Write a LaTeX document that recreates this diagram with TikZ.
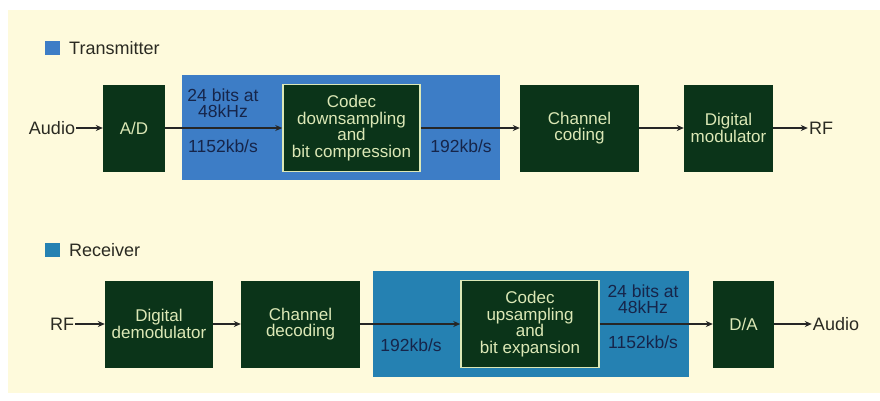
\documentclass[tikz,border=0pt]{standalone}
\usepackage{fontspec}
\setmainfont{Liberation Sans}
\usepackage{xcolor}
\usetikzlibrary{arrows.meta}

\definecolor{cream}{HTML}{FEFADC}
\definecolor{darkgreen}{HTML}{0B3419}
\definecolor{boxtext}{HTML}{DCE8B6}
\definecolor{txblue}{HTML}{3D7DC6}
\definecolor{rxblue}{HTML}{2581B2}
\definecolor{navy}{HTML}{16254A}
\definecolor{ink}{HTML}{2A2A22}

\begin{document}
\begin{tikzpicture}[x=1pt, y=-1pt,
            block/.style={rectangle, fill=darkgreen, align=center, inner sep=1pt,
            text=boxtext, font=\fontsize{17}{16.5}\selectfont, minimum height=87pt},
            codec/.style={block, draw=boxtext, line width=1.5pt},
            label_out/.style={font=\fontsize{18}{18}\selectfont, text=ink, inner sep=1pt},
            label_rate/.style={font=\fontsize{17.5}{16.5}\selectfont, text=navy, align=center, inner sep=0pt},
            flow/.style={->, line width=1.4pt, color=black!85,
            >={Stealth[length=7pt, width=6pt]}},
        ]

            \useasboundingbox (0,0) rectangle (880,400);
            \fill[white] (0,0) rectangle (880,400);
            \fill[cream] (8,10) rectangle (880,393);

            %% Transmitter
            \fill[txblue] (45,41) rectangle (60,55);
            \node[label_out, anchor=west] (txlegend) at (68,48) {Transmitter};
            \fill[txblue] (182,75) rectangle (500,180);

            \node[label_out] (audioin) at (52,128) {Audio};
            \node[block, minimum width=62pt]  (ad)      at (134,128)   {A/D};
            \node[codec, minimum width=137pt] (codectx) at (351.5,128) {Codec\\downsampling\\and\\bit compression};
            \node[block, minimum width=119pt] (chcod)   at (579.5,128) {Channel\\coding};
            \node[block, minimum width=89pt]  (dmod)    at (728.5,128) {Digital\\modulator};
            \node[label_out] (rfout) at (821,128) {RF};

            \node[label_rate] (txbits) at (223,103) {24 bits at\\48kHz};
            \node[label_rate] (txrate) at (223,146) {1152kb/s};
            \node[label_rate] (txcomp) at (461,146) {192kb/s};

            \draw[flow] (audioin) -- (ad);
            \draw[flow] (ad) -- (codectx);
            \draw[flow] (codectx) -- (chcod);
            \draw[flow] (chcod) -- (dmod);
            \draw[flow] (dmod) -- (rfout);

            %% Receiver
            \fill[rxblue] (45,243) rectangle (60,257);
            \node[label_out, anchor=west] (rxlegend) at (68,250) {Receiver};
            \fill[rxblue] (373,271) rectangle (689,377);

            \node[label_out] (rfin) at (62,324) {RF};
            \node[block, minimum width=108pt] (demod)   at (159,324)   {Digital\\demodulator};
            \node[block, minimum width=119pt] (chdec)   at (300.5,324) {Channel\\decoding};
            \node[codec, minimum width=138pt] (codecrx) at (530,324)   {Codec\\upsampling\\and\\bit expansion};
            \node[block, minimum width=61pt]  (da)      at (743.5,324) {D/A};
            \node[label_out] (audioout) at (836,324) {Audio};

            \node[label_rate] (rxcomp) at (411,345) {192kb/s};
            \node[label_rate] (rxbits) at (643,299) {24 bits at\\48kHz};
            \node[label_rate] (rxrate) at (643,342) {1152kb/s};

            \draw[flow] (rfin) -- (demod);
            \draw[flow] (demod) -- (chdec);
            \draw[flow] (chdec) -- (codecrx);
            \draw[flow] (codecrx) -- (da);
            \draw[flow] (da) -- (audioout);

        \end{tikzpicture}
\end{document}
